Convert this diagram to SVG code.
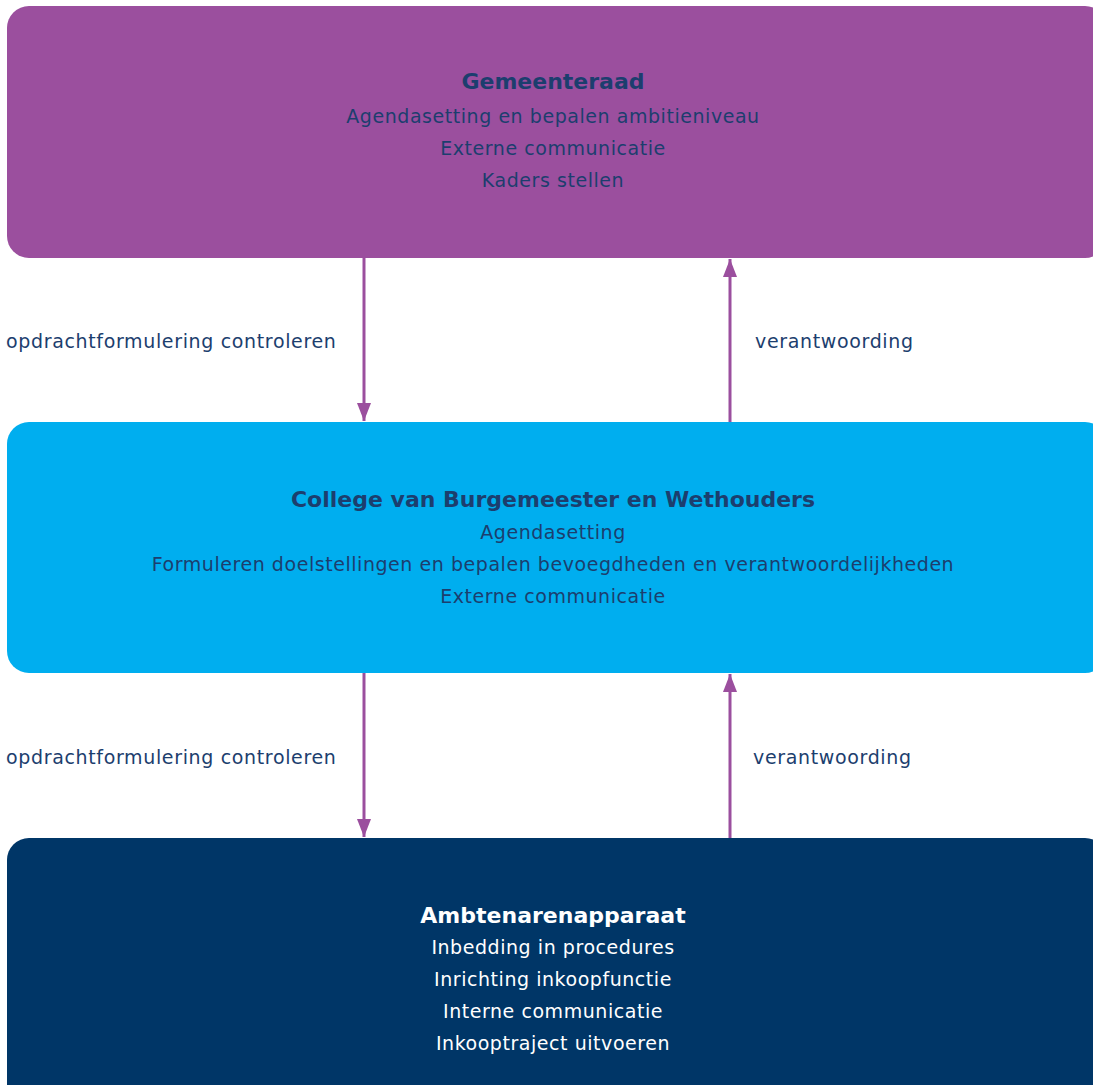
<svg xmlns="http://www.w3.org/2000/svg" width="1093" height="1085" viewBox="0 0 1093 1085">
<defs>
<marker id="ah" markerWidth="18" markerHeight="14" refX="18" refY="7" orient="auto" markerUnits="userSpaceOnUse" viewBox="0 0 18 14">
<path d="M0,0 L18,7 L0,14 Z" fill="#9B4F9E"/>
</marker>
<style>
.t{font-family:"DejaVu Sans",sans-serif;font-size:19px;letter-spacing:0.55px;fill:#1C3E6E;text-anchor:middle}
.h{font-family:"DejaVu Sans",sans-serif;font-size:22px;font-weight:bold;fill:#1C3E6E;text-anchor:middle}
.w{fill:#FFFFFF}
.lbl{font-family:"DejaVu Sans",sans-serif;font-size:19px;letter-spacing:0.65px;fill:#1C3E6E}
.c{stroke:#9B4F9E;stroke-width:3;fill:none}
</style>
</defs>
<rect width="1093" height="1085" fill="#FFFFFF"/>
<g id="gemeenteraad">
<rect x="7" y="6" width="1100" height="252" rx="22" fill="#9B4F9E"/>
<text class="h" x="553" y="89">Gemeenteraad</text>
<text class="t" x="553" y="123">Agendasetting en bepalen ambitieniveau</text>
<text class="t" x="553" y="155">Externe communicatie</text>
<text class="t" x="553" y="187">Kaders stellen</text>
</g>
<g id="college">
<rect x="7" y="422" width="1100" height="251" rx="22" fill="#00AEEF"/>
<text class="h" x="553" y="507">College van Burgemeester en Wethouders</text>
<text class="t" x="553" y="539">Agendasetting</text>
<text class="t" x="553" y="571">Formuleren doelstellingen en bepalen bevoegdheden en verantwoordelijkheden</text>
<text class="t" x="553" y="603">Externe communicatie</text>
</g>
<g id="ambtenaren">
<rect x="7" y="838" width="1100" height="270" rx="22" fill="#003667"/>
<text class="h w" x="553" y="923">Ambtenarenapparaat</text>
<text class="t w" x="553" y="954">Inbedding in procedures</text>
<text class="t w" x="553" y="986">Inrichting inkoopfunctie</text>
<text class="t w" x="553" y="1018">Interne communicatie</text>
<text class="t w" x="553" y="1050">Inkooptraject uitvoeren</text>
</g>
<g id="connectors">
<line class="c" x1="364" y1="258" x2="364" y2="421" marker-end="url(#ah)"/>
<line class="c" x1="730" y1="422" x2="730" y2="259" marker-end="url(#ah)"/>
<line class="c" x1="364" y1="673" x2="364" y2="837" marker-end="url(#ah)"/>
<line class="c" x1="730" y1="838" x2="730" y2="674" marker-end="url(#ah)"/>
<text class="lbl" x="6" y="348">opdrachtformulering controleren</text>
<text class="lbl" x="755" y="348">verantwoording</text>
<text class="lbl" x="6" y="764">opdrachtformulering controleren</text>
<text class="lbl" x="753" y="764">verantwoording</text>
</g>
</svg>
